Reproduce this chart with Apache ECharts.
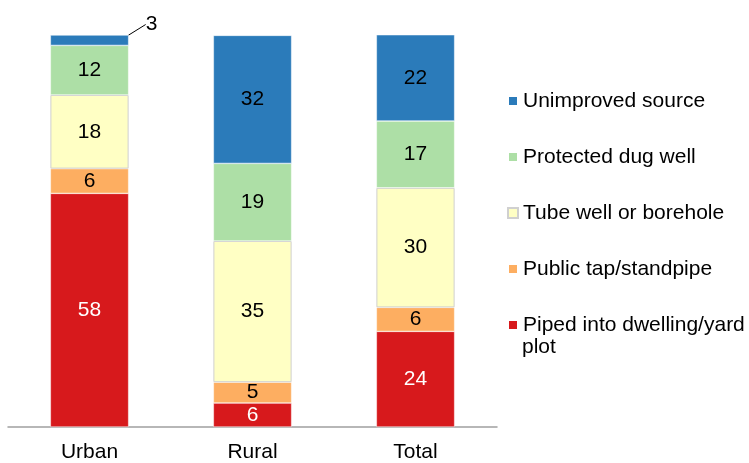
<!DOCTYPE html>
<html>
<head>
<meta charset="utf-8">
<script src="https://cdn.jsdelivr.net/npm/echarts@6/dist/echarts.min.js"></script>
<style>
 html,body{margin:0;padding:0;background:#fff;}
 #main{width:749px;height:463px;}
</style>
</head>
<body>
<div id="main"></div>
<script>
var categories = ['Urban', 'Rural', 'Total'];
// percentages, bottom to top
var piped     = [58.4, 6.0, 23.9];
var publicTap = [6.2, 5.2, 6.0];
var tubeWell  = [18.4, 35.3, 29.9];
var dugWell   = [12.4, 19.4, 16.7];
var unimproved = [2.6, 32.0, 21.6];

var names = ['Piped into dwelling/yard plot', 'Public tap/standpipe', 'Tube well or borehole', 'Protected dug well', 'Unimproved source'];
var colors = ['#d7191c', '#fdae61', '#ffffc4', '#addfa6', '#2b7bba'];
var values = [piped, publicTap, tubeWell, dugWell, unimproved];

var font = 'Arial, "Liberation Sans", sans-serif';

var series = [];
for (var i = 0; i < names.length; i++) {
    var s = {
        name: names[i],
        type: 'bar',
        stack: 'all',
        barWidth: '48%',
        data: values[i].slice(),
        itemStyle: {
            color: colors[i],
            borderColor: i == 2 ? '#d0d0d0' : '#fff',
            borderWidth: i == 2 ? 1 : 0.5
        },
        label: {
            show: true,
            position: 'inside',
            color: i == 0 ? '#fff' : '#000',
            fontFamily: font,
            fontSize: 21,
            formatter: function (p) { return Math.round(p.value); }
        }
    };
    series.push(s);
}
// the small urban "unimproved" slice gets an outside label with a leader line
series[4].data[0] = {
    value: unimproved[0],
    label: { position: 'top', distance: 2 },
    labelLine: { show: true, lineStyle: { color: '#000', width: 1 } }
};
series[4].labelLayout = function (p) {
    if (p.dataIndex === 0) return { dx: 62, dy: 2 };
};

option = {
    backgroundColor: '#fff',
    animation: false,
    grid: { left: 8, right: 252, top: 35, bottom: 34 },
    legend: {
        orient: 'vertical',
        left: 507,
        top: 89,
        padding: 0,
        itemWidth: 10,
        itemHeight: 10,
        itemGap: 32,
        icon: 'rect',
        data: ['Unimproved source', 'Protected dug well', 'Tube well or borehole', 'Public tap/standpipe', 'Piped into dwelling/yard plot'],
        formatter: function (n) {
            return n == 'Piped into dwelling/yard plot' ? 'Piped into dwelling/yard' : n;
        },
        textStyle: { color: '#000', fontFamily: font, fontSize: 21, lineHeight: 24 }
    },
    graphic: [{
        type: 'text',
        left: 522,
        top: 337,
        style: { text: 'plot', fill: '#000', font: '21px ' + font }
    }],
    xAxis: {
        type: 'category',
        data: categories,
        axisLine: { lineStyle: { color: '#a0a0a0', width: 1.5 } },
        axisTick: { show: false },
        axisLabel: { color: '#000', fontFamily: font, fontSize: 21, margin: 15 }
    },
    yAxis: {
        type: 'value',
        min: 0,
        max: 98,
        show: false,
        splitLine: { show: false }
    },
    series: series
};

var myChart = echarts.init(document.getElementById('main'));
myChart.setOption(option);
</script>
</body>
</html>
